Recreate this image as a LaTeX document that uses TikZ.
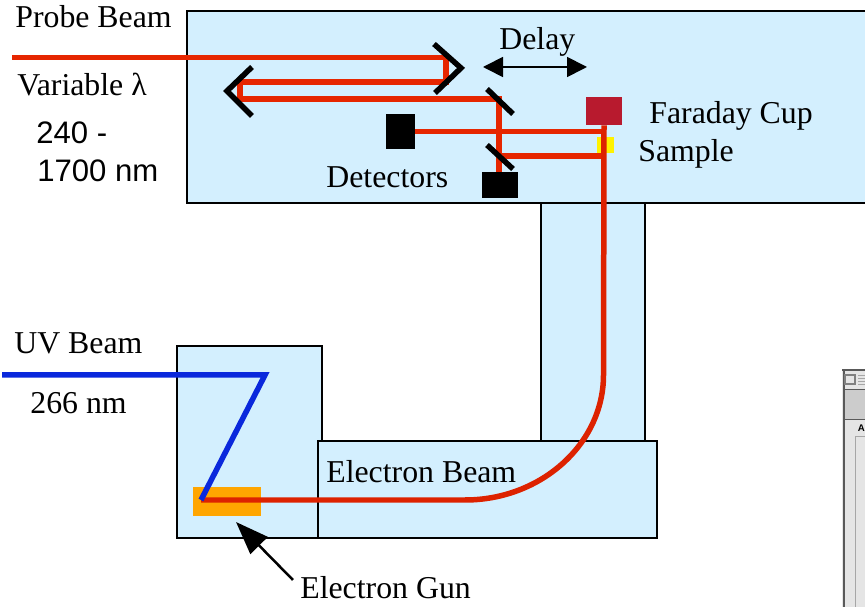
\documentclass[tikz,border=0pt]{standalone}
\usepackage{fontspec}
\setmainfont{Liberation Serif}
\newfontfamily\ArialLike{Liberation Sans}
\usepackage{tikz}
\usetikzlibrary{calc}
\usetikzlibrary{arrows.meta}
\usetikzlibrary{positioning}
\definecolor{chamber}{HTML}{D3EFFE}
\definecolor{beamred}{HTML}{E62600}
\definecolor{gunred}{HTML}{DD2200}
\definecolor{beamblue}{HTML}{0A28DC}
\definecolor{cupred}{HTML}{B81A2E}
\definecolor{gunorange}{HTML}{FFA500}
\begin{document}
\begin{tikzpicture}[
x=0.02cm,y=-0.02cm,
Chambers/.style={draw=black,fill=chamber,line width=0.45mm},
RedBeam/.style={draw=beamred,line width=1.1mm},
BlueBeam/.style={draw=beamblue,line width=1.1mm},
Mirrors/.style={draw=black,line width=1.1mm},
Detectors/.style={draw=none,fill=black,inner sep=0pt},
MyLabels/.style={anchor=base west,inner sep=0pt,font=\fontsize{18.1}{20}\selectfont},
SansLabels/.style={anchor=base west,inner sep=0pt,font=\ArialLike\fontsize{17.7}{20}\selectfont}
]
\useasboundingbox (0,0) rectangle (865,607);
\clip (0,0) rectangle (865,607);

% chambers
\draw[Chambers] (187,11) rectangle (880,203);
\draw[Chambers] (541,203) rectangle (645,441);
\draw[Chambers] (177,346) rectangle (322,538);
\draw[Chambers] (318,441) rectangle (657,538);

% window at the right edge
\fill[gray!20] (842,370) rectangle (870,607);
\draw[gray!70!black,thick] (842,370) -- (870,370);
\draw[gray!70!black,thick] (844,370) -- (844,607);
\draw[gray,thick] (845,375) rectangle (855,384);
\foreach \y in {375,378,381,384} \draw[gray!70] (858,\y) -- (870,\y);
\fill[gray!40] (845,389) rectangle (870,419);
\draw[gray!70!black] (845,389) -- (870,389) (845,419) -- (870,419);
\draw[gray!70] (855,436) -- (870,436) (855,436) -- (855,607);
\node[anchor=base west,inner sep=0pt,font=\ArialLike\bfseries\fontsize{5.5}{7}\selectfont] (WinText) at (857.5,432) {A};

\coordinate (ProbeIn) at (12,57.5);
\coordinate (MirRa) at (446,57.5);
\coordinate (MirRb) at (446,82);
\coordinate (MirLa) at (240,82);
\coordinate (MirLb) at (240,99);
\coordinate (SplitA) at (499,99);
\coordinate (SplitB) at (499,156);
\coordinate (SampleOut) at (604,156);
\coordinate (CurveIn) at (465,500);
\coordinate (CurveOut) at (603.5,375);
\coordinate (UVIn) at (2,375);
\coordinate (UVMir) at (265,375);
\coordinate (GunTip) at (236,522);

\node[Detectors,minimum width=7.2mm,minimum height=5.6mm,fill=cupred] (Cup) at (604,111) {};
\node[Detectors,minimum width=5.8mm,minimum height=7mm] (DetA) at (400.5,131.5) {};
\node[Detectors,minimum width=7.2mm,minimum height=5.2mm] (DetB) at (500,185) {};
\node[draw=none,fill=gunorange,inner sep=0pt,minimum width=13.6mm,minimum height=5.8mm] (Gun) at (227,501.5) {};
\node[draw=none,fill=yellow,inner sep=0pt,minimum width=3.4mm,minimum height=3.2mm] (Sample) at (605.5,145) {};
\coordinate (GunStart) at (201,500);

% probe beam
\draw[RedBeam] (ProbeIn) -- (MirRa) -- (MirRb) -- (MirLa) -- (MirLb) -- (SplitA) -- (SplitA |- DetB.north);
\draw[RedBeam] (DetA.east) -- (DetA.east -| Cup.south);
\draw[RedBeam] (SplitB) -- (SampleOut);

% electron beam
\draw[RedBeam,draw=gunred] (Cup.south) -- (CurveOut) .. controls (603.5,444) and (541,500) .. (CurveIn) -- (GunStart);

% uv beam
\draw[BlueBeam] (UVIn) -- (UVMir) -- (GunStart);

% mirrors
\draw[Mirrors] (434,44) -- (461,68) -- (435,93);
\draw[Mirrors] (252,67) -- (227,91) -- (252,116);
\draw[Mirrors] (487,89) -- (513,114);
\draw[Mirrors] (487,145) -- (513,169);

\node[MyLabels] (ProbeLab) at (15,28) {Probe Beam};
\node[MyLabels] (VarLab) at (17,96) {Variable λ};
\node[SansLabels] (RangeA) at (36,143.5) {240 -};
\node[SansLabels] (RangeB) at (37,182) {1700 nm};
\node[MyLabels] (DelayLab) at (499,50) {Delay};
\node[MyLabels] (CupLab) at (649,124) {Faraday Cup};
\node[MyLabels] (SampleLab) at (638,162) {Sample};
\node[MyLabels] (DetLab) at (326,188) {Detectors};
\node[MyLabels] (UVLab) at (14,354) {UV Beam};
\node[MyLabels] (UVnm) at (30,414) {266 nm};
\node[MyLabels] (BeamLab) at (326,482) {Electron Beam};
\node[MyLabels] (GunLab) at (300,598) {Electron Gun};

\coordinate (DelayL) at (483,67);
\coordinate (DelayR) at (587,67);
\draw[{Triangle[length=4mm,width=4mm]}-{Triangle[length=4mm,width=4mm]},black,line width=0.35mm] (DelayL) -- (DelayR);
\draw[-{Triangle[length=6.6mm,width=4.8mm]},black,line width=0.5mm,shorten <=2mm] (GunLab.west) -- (GunTip);

\end{tikzpicture}
\end{document}
